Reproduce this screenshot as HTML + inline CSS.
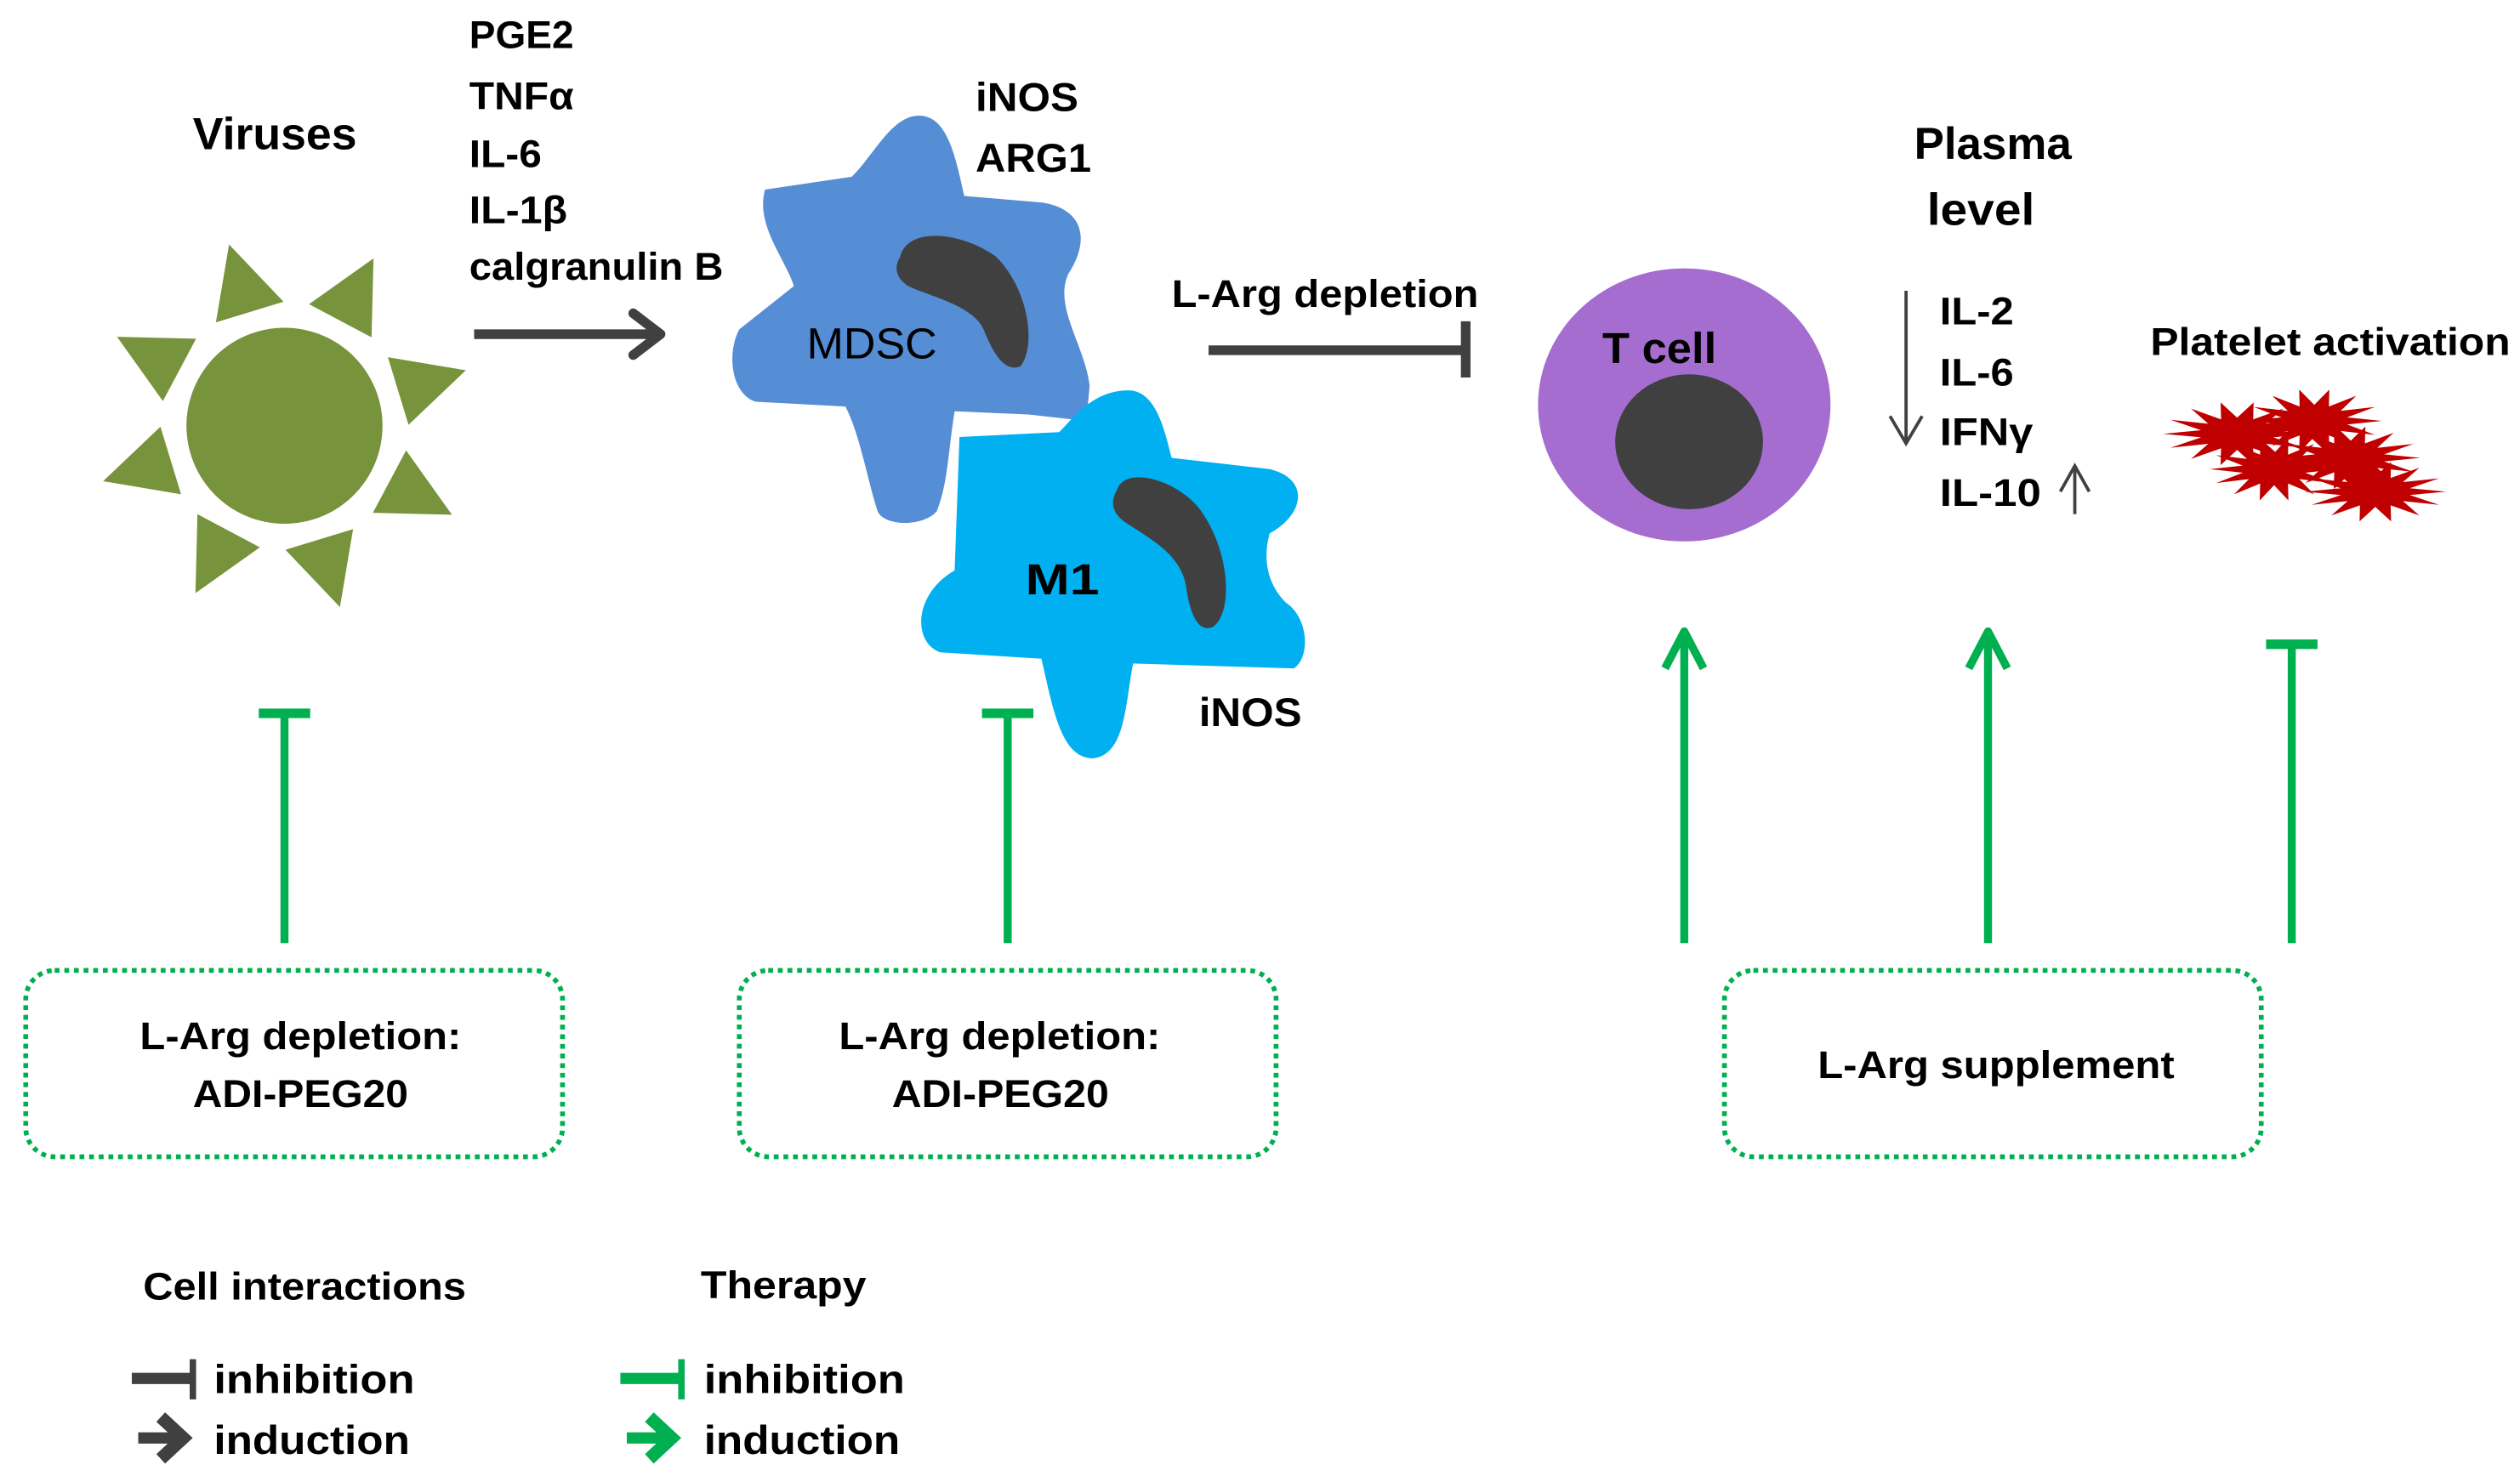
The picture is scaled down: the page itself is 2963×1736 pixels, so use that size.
<!DOCTYPE html>
<html><head><meta charset="utf-8"><style>
html,body{margin:0;padding:0;background:#fff;}
svg{display:block;}
text{font-family:"Liberation Sans",sans-serif;font-weight:bold;fill:#000;}
</style></head><body>
<svg width="2963" height="1736" viewBox="0 0 1568 918.7" xmlns="http://www.w3.org/2000/svg">
<defs>
<polygon id="st" points="1,0 0.487,0.111 0.901,0.434 0.391,0.312 0.623,0.782 0.217,0.45 0.223,0.975 0,0.5 -0.223,0.975 -0.217,0.45 -0.623,0.782 -0.391,0.312 -0.901,0.434 -0.487,0.111 -1,0 -0.487,-0.111 -0.901,-0.434 -0.391,-0.312 -0.623,-0.782 -0.217,-0.45 -0.223,-0.975 0,-0.5 0.223,-0.975 0.217,-0.45 0.623,-0.782 0.391,-0.312 0.901,-0.434 0.487,-0.111"/>
<polygon id="sp" points="0,-22 44,0 0,22"/>
</defs>

<!-- Sun -->
<g fill="#77933C">
<circle cx="177" cy="265" r="61"/>
<g transform="translate(177,265)">
<use href="#sp" transform="rotate(-107) translate(74,0)"/>
<use href="#sp" transform="rotate(-62) translate(74,0)"/>
<use href="#sp" transform="rotate(-17) translate(74,0)"/>
<use href="#sp" transform="rotate(28) translate(74,0)"/>
<use href="#sp" transform="rotate(73) translate(74,0)"/>
<use href="#sp" transform="rotate(118) translate(74,0)"/>
<use href="#sp" transform="rotate(163) translate(74,0)"/>
<use href="#sp" transform="rotate(208) translate(74,0)"/>
</g></g>
<text x="120" y="93" font-size="28" textLength="102" lengthAdjust="spacingAndGlyphs">Viruses</text>

<text x="292" y="30" font-size="24" textLength="65" lengthAdjust="spacingAndGlyphs">PGE2</text>
<text x="292" y="68" font-size="24" textLength="65" lengthAdjust="spacingAndGlyphs">TNFα</text>
<text x="292" y="104" font-size="24" textLength="45" lengthAdjust="spacingAndGlyphs">IL-6</text>
<text x="292" y="139" font-size="24" textLength="61" lengthAdjust="spacingAndGlyphs">IL-1β</text>
<text x="292" y="174" font-size="24" textLength="158" lengthAdjust="spacingAndGlyphs">calgranulin B</text>

<g stroke="#404040" stroke-width="6" fill="none" stroke-linecap="round">
<line x1="295" y1="208" x2="410" y2="208" stroke-linecap="butt"/>
<polyline points="394,195 411,208 394,221" stroke-linejoin="round"/>
</g>

<!-- MDSC -->
<path fill="#558ED5" d="M572,72 C590,72 595,100 600,122 L648,126 C675,130 678,150 665,170 C655,190 675,215 678,240 L676,262 L640,258 L594,256 C590,280 590,300 583,318 C575,328 550,328 546,318 C540,300 535,270 526,253 L470,250 C455,245 452,220 460,205 L494,178 C488,160 470,140 476,118 L530,110 C545,95 555,72 572,72 Z"/>
<path fill="#404040" d="M560,160 C565,140 600,145 620,160 C640,180 645,215 635,228 C625,232 618,220 612,205 C605,190 580,185 565,178 C556,172 557,165 560,160 Z"/>
<!-- M1 -->
<path fill="#00B0F0" d="M702,243 C720,243 725,270 729,285 L790,292 C815,298 812,320 790,332 C785,350 790,365 800,375 C815,385 815,410 805,416 L705,413 C700,440 700,470 680,472 C660,472 655,440 648,410 L585,406 C568,400 568,370 594,355 L597,272 L659,269 C668,260 680,243 702,243 Z"/>
<path fill="#404040" d="M695,305 C700,290 730,298 745,315 C765,340 768,380 755,390 C745,395 740,380 738,365 C735,345 715,335 700,325 C690,318 692,310 695,305 Z"/>
<text x="502" y="223" font-size="27" style="font-weight:normal" textLength="81" lengthAdjust="spacingAndGlyphs">MDSC</text>
<text x="607" y="69" font-size="25" textLength="64" lengthAdjust="spacingAndGlyphs">iNOS</text>
<text x="607" y="107" font-size="25" textLength="72" lengthAdjust="spacingAndGlyphs">ARG1</text>
<text x="638" y="370" font-size="27" textLength="46" lengthAdjust="spacingAndGlyphs">M1</text>
<text x="746" y="452" font-size="25" textLength="64" lengthAdjust="spacingAndGlyphs">iNOS</text>

<text x="729" y="191" font-size="24" textLength="191" lengthAdjust="spacingAndGlyphs">L-Arg depletion</text>
<g stroke="#404040" stroke-width="6"><line x1="752" y1="218" x2="912" y2="218"/><line x1="912" y1="200" x2="912" y2="235"/></g>

<!-- T cell -->
<ellipse cx="1048" cy="252" rx="91" ry="85" fill="#A66DD0"/>
<ellipse cx="1051" cy="275" rx="46" ry="42" fill="#404040"/>
<text x="997" y="226" font-size="27" textLength="71" lengthAdjust="spacingAndGlyphs">T cell</text>

<text x="1191" y="99" font-size="28" textLength="98" lengthAdjust="spacingAndGlyphs">Plasma</text>
<text x="1199" y="140" font-size="28" textLength="67" lengthAdjust="spacingAndGlyphs">level</text>
<g stroke="#404040" stroke-width="2" fill="none">
<line x1="1186" y1="181" x2="1186" y2="276"/><polyline points="1176,259 1186,276 1196,259"/>
<line x1="1291" y1="320" x2="1291" y2="290"/><polyline points="1282,306 1291,290 1300,306"/>
</g>
<text x="1207" y="202" font-size="24" textLength="46" lengthAdjust="spacingAndGlyphs">IL-2</text>
<text x="1207" y="240" font-size="24" textLength="46" lengthAdjust="spacingAndGlyphs">IL-6</text>
<text x="1207" y="277" font-size="24" textLength="58" lengthAdjust="spacingAndGlyphs">IFNγ</text>
<text x="1207" y="315" font-size="24" textLength="63" lengthAdjust="spacingAndGlyphs">IL-10</text>
<text x="1338" y="221" font-size="24" textLength="224" lengthAdjust="spacingAndGlyphs">Platelet activation</text>

<g fill="#C00000">
<use href="#st" transform="translate(1392,270) scale(46,20)"/>
<use href="#st" transform="translate(1440,262) scale(42,20)"/>
<use href="#st" transform="translate(1462,285) scale(44,20)"/>
<use href="#st" transform="translate(1415,292) scale(40,20)"/>
<use href="#st" transform="translate(1478,306) scale(44,19)"/>
</g>

<!-- green connectors -->
<g stroke="#00B050" stroke-width="5" fill="none">
<line x1="177" y1="442" x2="177" y2="587"/><line x1="161" y1="444" x2="193" y2="444" stroke-width="6"/>
<line x1="627" y1="442" x2="627" y2="587"/><line x1="611" y1="444" x2="643" y2="444" stroke-width="6"/>
<line x1="1426" y1="399" x2="1426" y2="587"/><line x1="1410" y1="401" x2="1442" y2="401" stroke-width="6"/>
<line x1="1048" y1="393" x2="1048" y2="587"/><polyline points="1036,416 1048,393 1060,416" stroke-linejoin="round"/>
<line x1="1237" y1="393" x2="1237" y2="587"/><polyline points="1225,416 1237,393 1249,416" stroke-linejoin="round"/>
</g>

<!-- dotted boxes -->
<g fill="none" stroke="#00B050" stroke-width="3" stroke-dasharray="3,3">
<rect x="16" y="604" width="334" height="116" rx="18"/>
<rect x="460" y="604" width="334" height="116" rx="18"/>
<rect x="1073" y="604" width="334" height="116" rx="18"/>
</g>
<text x="87" y="653" font-size="24" textLength="200" lengthAdjust="spacingAndGlyphs">L-Arg depletion:</text>
<text x="120" y="689" font-size="24" textLength="134" lengthAdjust="spacingAndGlyphs">ADI-PEG20</text>
<text x="522" y="653" font-size="24" textLength="200" lengthAdjust="spacingAndGlyphs">L-Arg depletion:</text>
<text x="555" y="689" font-size="24" textLength="135" lengthAdjust="spacingAndGlyphs">ADI-PEG20</text>
<text x="1131" y="671" font-size="24" textLength="222" lengthAdjust="spacingAndGlyphs">L-Arg supplement</text>

<!-- legend -->
<text x="89" y="809" font-size="24" textLength="201" lengthAdjust="spacingAndGlyphs">Cell interactions</text>
<text x="436" y="808" font-size="24" textLength="103" lengthAdjust="spacingAndGlyphs">Therapy</text>
<g stroke="#404040" fill="none">
<line x1="82" y1="858" x2="119" y2="858" stroke-width="7"/><line x1="120" y1="846" x2="120" y2="871" stroke-width="4"/>
<line x1="86" y1="895" x2="112" y2="895" stroke-width="7"/><polyline points="100,882 114,895 100,908" stroke-width="8"/>
</g>
<g stroke="#00B050" fill="none">
<line x1="386" y1="858" x2="423" y2="858" stroke-width="7"/><line x1="424" y1="846" x2="424" y2="871" stroke-width="4"/>
<line x1="390" y1="895" x2="416" y2="895" stroke-width="7"/><polyline points="404,882 418,895 404,908" stroke-width="8"/>
</g>
<text x="133" y="867" font-size="25" textLength="125" lengthAdjust="spacingAndGlyphs">inhibition</text>
<text x="133" y="905" font-size="25" textLength="122" lengthAdjust="spacingAndGlyphs">induction</text>
<text x="438" y="867" font-size="25" textLength="125" lengthAdjust="spacingAndGlyphs">inhibition</text>
<text x="438" y="905" font-size="25" textLength="122" lengthAdjust="spacingAndGlyphs">induction</text>
</svg>
</body></html>
